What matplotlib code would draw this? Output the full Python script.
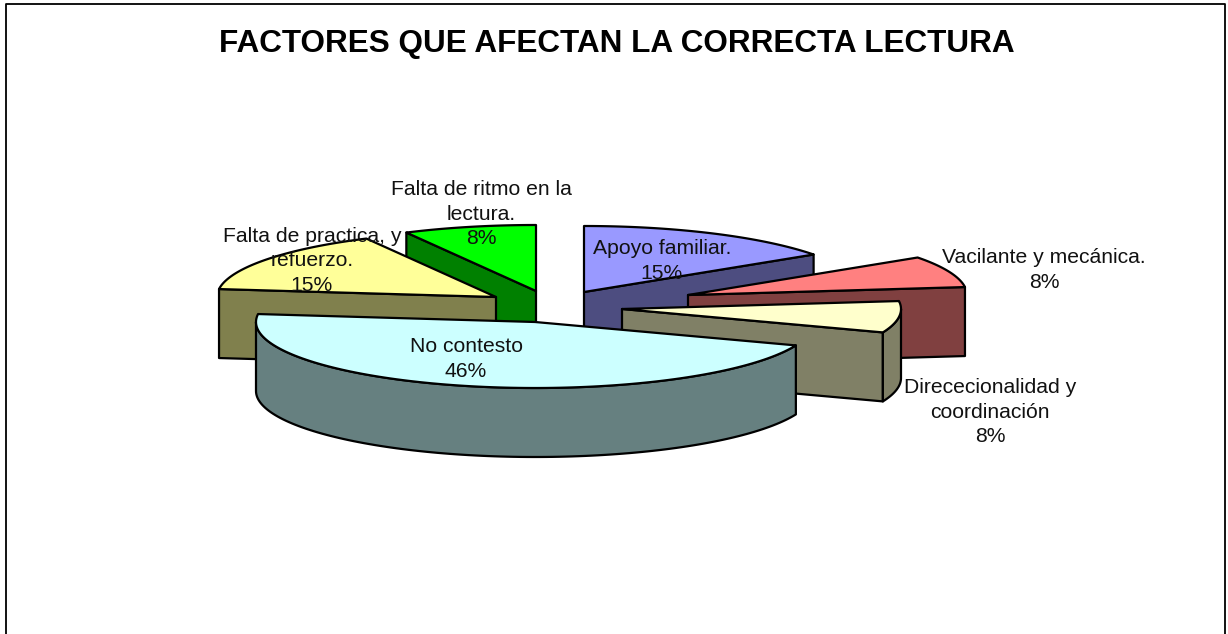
import numpy as np
import matplotlib
matplotlib.use('agg')
import matplotlib.pyplot as plt
from matplotlib.patches import Polygon

title = 'FACTORES QUE AFECTAN LA CORRECTA LECTURA'
labels = ['Apoyo familiar.', 'Vacilante y mecánica.', 'Dirececionalidad y\ncoordinación',
          'No contesto', 'Falta de practica, y\nrefuerzo.', 'Falta de ritmo en la\nlectura.']
values = [2, 1, 1, 6, 2, 1]

# colours: top face / side face
top_colors = ['#9999FF', '#FF8080', '#FFFFCC', '#CCFFFF', '#FFFF99', '#00FF00']
side_colors = ['#4D4D80', '#804040', '#808066', '#668080', '#80804D', '#008000']

# layout in pixels (the figure is 1228x634)
center = (537, 308)
rx, ry = 279, 66
depth = 69
explode = [(47, -16), (151, -13), (85, 1), (-2, 14), (-41, -11), (-1, -17)]
label_pos = [(662, 261), (1044, 270), (990, 412), (466, 359), (312, 261), (481, 214)]
paint_order = [0, 1, 2, 5, 4, 3]


def rim(x0, y0, t0, t1):
    # angles are clockwise from 12 o'clock, in degrees
    t = np.radians(np.linspace(t0, t1, 120))
    return np.column_stack([x0 + rx * np.sin(t), y0 - ry * np.cos(t)])


def face(ax, pts, color):
    ax.add_patch(Polygon(pts, closed=True, facecolor=color, edgecolor='black',
                         linewidth=1.6, joinstyle='round'))


def draw_slice(ax, x0, y0, t0, t1, top, side):
    # cut faces, only the ones turned towards the viewer
    for t, normal in [(t0, t0 - 90), (t1, t1 + 90)]:
        if np.cos(np.radians(normal)) < -1e-6:
            p = rim(x0, y0, t, t)[0]
            face(ax, [(x0, y0), p, (p[0], p[1] + depth), (x0, y0 + depth)], side)
    # outer wall, front half of the ellipse
    a, b = max(t0, 90), min(t1, 270)
    if b > a:
        arc = rim(x0, y0, a, b)
        low = arc[::-1] + [0, depth]
        face(ax, np.vstack([arc, low]), side)
    face(ax, np.vstack([[(x0, y0)], rim(x0, y0, t0, t1)]), top)


fig = plt.figure(figsize=(12.28, 6.34), dpi=100)
ax = fig.add_axes([0, 0, 1, 1])
ax.set_xlim(0, 1228)
ax.set_ylim(634, 0)
ax.axis('off')

# chart frame, the bottom side is cut off in the original
ax.plot([5.5, 5.5, 1225, 1225], [640, 4, 4, 640], color='black', lw=1.3)

vals = np.array(values, dtype=float)
edges = np.concatenate([[0], np.cumsum(vals) / vals.sum() * 360])
pct = np.round(vals / vals.sum() * 100).astype(int)

for i in paint_order:
    draw_slice(ax, center[0] + explode[i][0], center[1] + explode[i][1],
               edges[i], edges[i + 1], top_colors[i], side_colors[i])

font = 'Liberation Sans'
for i, lab in enumerate(labels):
    ax.text(label_pos[i][0], label_pos[i][1], f'{lab}\n{pct[i]}%', ha='center', va='center',
            family=font, fontsize=15.2, linespacing=1.36, color='#111111')

ax.text(617, 44, title, ha='center', va='center', family=font, fontsize=22.7,
        fontweight='bold', color='black')

fig.savefig('out.png', dpi=100)
